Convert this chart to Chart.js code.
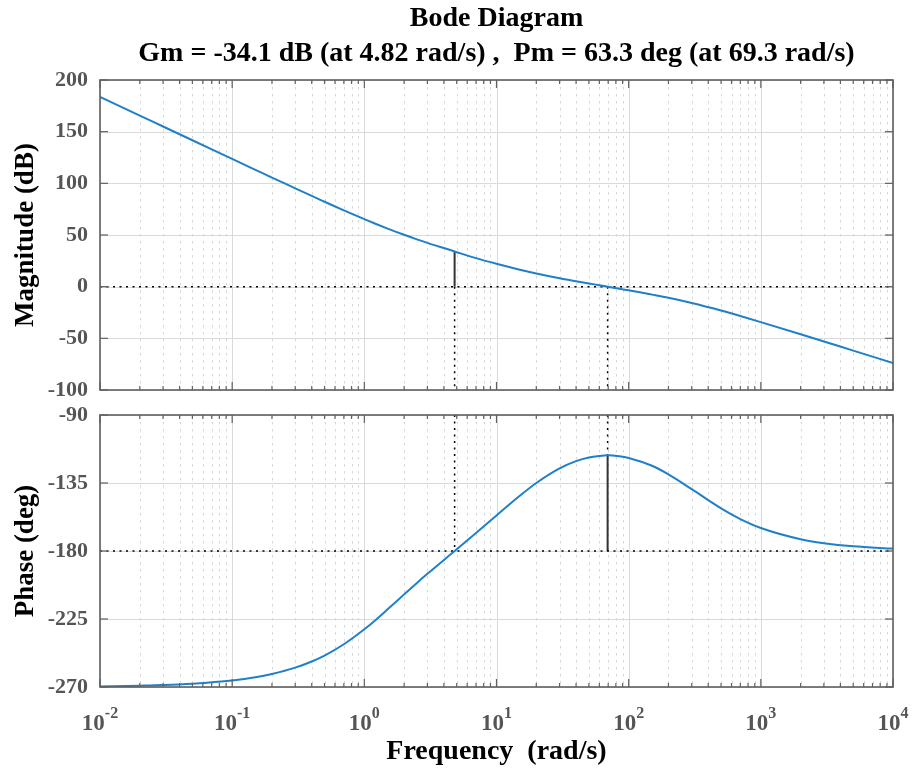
<!DOCTYPE html>
<html>
<head>
<meta charset="utf-8">
<script src="https://cdn.jsdelivr.net/npm/chart.js@4.4.1/dist/chart.umd.min.js"></script>
<style>
  html, body { margin: 0; padding: 0; background: #fff; }
  #graficoMag { position: absolute; left: 0; top: 0; }
  #graficoFase { position: absolute; left: 0; top: 400px; }
</style>
</head>
<body>
<canvas id="graficoMag" width="913" height="400"></canvas>
<canvas id="graficoFase" width="913" height="375"></canvas>
<script>
const frequencias = [0.01, 0.02, 0.03, 0.05, 0.1, 0.15, 0.2, 0.3, 0.4, 0.5, 0.7, 1, 1.2, 1.5, 2, 2.5, 3, 4.82, 7, 10, 15, 20, 30, 40, 50, 60, 69.3, 85, 100, 150, 200, 300, 500, 700, 1000, 2000, 3000, 5000, 10000];
const magnitudeDb = [183.6, 165.5, 155.0, 141.7, 123.6, 113.1, 105.6, 95.2, 87.8, 82.2, 73.8, 65.3, 61.1, 56.2, 50.2, 45.8, 42.4, 34.1, 27.6, 22.1, 16.4, 12.8, 8.2, 5.3, 3.1, 1.4, 0, -2.0, -3.5, -7.7, -10.8, -15.8, -23.1, -28.4, -34.3, -46.0, -53.0, -61.9, -73.9];
const faseGraus = [-269.6, -269.1, -268.7, -267.8, -265.7, -263.6, -261.4, -257.2, -253.1, -249.2, -241.7, -231.8, -226.1, -218.6, -208.7, -201.1, -195.1, -180.0, -168.1, -156.5, -143.5, -135.0, -125.3, -120.5, -118.1, -117.1, -116.7, -117.3, -118.4, -123.6, -129.3, -139.1, -151.8, -158.9, -164.8, -172.2, -174.8, -176.9, -178.4];

const decadas = [1e-2, 1e-1, 1, 1e1, 1e2, 1e3, 1e4];
const expoentes = ['-2', '-1', '0', '1', '2', '3', '4'];
const fatoresMenores = [2, 3, 4, 5, 6, 7, 8, 9];
const ticksMagnitude = [-100, -50, 0, 50, 100, 150, 200];
const ticksFase = [-270, -225, -180, -135, -90];

// margens
const freqGm = 4.82;
const magNaFreqGm = 34.1;
const freqPm = 69.3;
const faseNaFreqPm = -116.7;

const fonte = "'Liberation Serif', 'Times New Roman', serif";
const azul = '#1f80c8';

function pares(xs, ys) {
    return xs.map((x, i) => ({ x: x, y: ys[i] }));
}

function linhaPontilhada(dados) {
    return { data: dados, borderColor: '#000', borderWidth: 1.5, borderDash: [2, 4.5], pointRadius: 0, tension: 0 };
}

function linhaCheia(dados) {
    return { data: dados, borderColor: '#333', borderWidth: 2, pointRadius: 0, tension: 0 };
}

const menores = [];
decadas.slice(0, -1).forEach(d => fatoresMenores.forEach(k => menores.push(d * k)));

// grade estilo matlab (linhas cheias nas decadas, pontilhadas no resto)
const gradeMatlab = {
    id: 'gradeMatlab',
    beforeDatasetsDraw(chart) {
        const { ctx, chartArea: a, scales: { x, y } } = chart;
        ctx.save();
        ctx.lineWidth = 1;

        ctx.strokeStyle = '#d6d6d6';
        ctx.setLineDash([2.5, 4.5]);
        menores.forEach(v => {
            const px = Math.round(x.getPixelForValue(v)) + 0.5;
            ctx.beginPath(); ctx.moveTo(px, a.top); ctx.lineTo(px, a.bottom); ctx.stroke();
        });

        ctx.setLineDash([]);
        ctx.strokeStyle = '#dadada';
        decadas.forEach(v => {
            const px = Math.round(x.getPixelForValue(v)) + 0.5;
            ctx.beginPath(); ctx.moveTo(px, a.top); ctx.lineTo(px, a.bottom); ctx.stroke();
        });
        y.ticks.forEach(t => {
            const py = Math.round(y.getPixelForValue(t.value)) + 0.5;
            ctx.beginPath(); ctx.moveTo(a.left, py); ctx.lineTo(a.right, py); ctx.stroke();
        });
        ctx.restore();
    },
    afterDatasetsDraw(chart) {
        const { ctx, chartArea: a, scales: { x, y } } = chart;
        ctx.save();
        ctx.strokeStyle = '#606060';
        ctx.lineWidth = 1.2;
        const risco = (x1, y1, x2, y2) => { ctx.beginPath(); ctx.moveTo(x1, y1); ctx.lineTo(x2, y2); ctx.stroke(); };

        menores.forEach(v => {
            const px = x.getPixelForValue(v);
            risco(px, a.bottom, px, a.bottom - 4);
            risco(px, a.top, px, a.top + 4);
        });
        decadas.forEach(v => {
            const px = x.getPixelForValue(v);
            risco(px, a.bottom, px, a.bottom - 8);
            risco(px, a.top, px, a.top + 8);
        });
        y.ticks.forEach(t => {
            const py = y.getPixelForValue(t.value);
            risco(a.left, py, a.left + 8, py);
            risco(a.right, py, a.right - 8, py);
        });

        ctx.lineWidth = 1.6;
        ctx.strokeRect(a.left, a.top, a.width, a.height);
        ctx.restore();
    }
};

// rotulos 10^n do eixo x
const rotulosPotencia = {
    id: 'rotulosPotencia',
    afterDraw(chart) {
        const { ctx, scales: { x } } = chart;
        ctx.save();
        ctx.fillStyle = '#555';
        ctx.textAlign = 'left';
        ctx.textBaseline = 'alphabetic';
        decadas.forEach((d, i) => {
            const px = x.getPixelForValue(d);
            ctx.font = 'bold 23px ' + fonte;
            const larguraBase = ctx.measureText('10').width;
            ctx.font = 'bold 16px ' + fonte;
            const larguraExp = ctx.measureText(expoentes[i]).width;
            const x0 = px - (larguraBase + larguraExp) / 2;
            ctx.font = 'bold 23px ' + fonte;
            ctx.fillText('10', x0, 330);
            ctx.font = 'bold 16px ' + fonte;
            ctx.fillText(expoentes[i], x0 + larguraBase, 318);
        });
        ctx.restore();
    }
};

function eixoY(ticks, minimo, maximo, titulo) {
    return {
        type: 'linear',
        min: minimo,
        max: maximo,
        afterBuildTicks: s => { s.ticks = ticks.map(v => ({ value: v })); },
        afterFit: s => { s.width = 100; s.paddingTop = 0; s.paddingBottom = 0; },
        grid: { display: false, drawTicks: false },
        border: { display: false },
        ticks: {
            autoSkip: false,
            padding: 12,
            color: '#555',
            font: { family: fonte, size: 22, weight: 'bold' },
            callback: v => String(v)
        },
        title: {
            display: true,
            text: titulo,
            color: '#000',
            padding: { top: 10, bottom: 0 },
            font: { family: fonte, size: 27, weight: 'bold' }
        }
    };
}

const graficoMag = document.getElementById('graficoMag');
new Chart(graficoMag, {
    type: 'line',
    data: {
        datasets: [
            { data: pares(frequencias, magnitudeDb), borderColor: azul, borderWidth: 2, pointRadius: 0, cubicInterpolationMode: 'monotone' },
            linhaPontilhada([{ x: decadas[0], y: 0 }, { x: decadas[decadas.length - 1], y: 0 }]),
            linhaCheia([{ x: freqGm, y: 0 }, { x: freqGm, y: magNaFreqGm }]),
            linhaPontilhada([{ x: freqGm, y: 0 }, { x: freqGm, y: ticksMagnitude[0] }]),
            linhaPontilhada([{ x: freqPm, y: 0 }, { x: freqPm, y: ticksMagnitude[0] }])
        ]
    },
    options: {
        responsive: false,
        animation: false,
        layout: { padding: { left: 0, right: 20, top: 0, bottom: 10 } },
        plugins: {
            legend: { display: false },
            tooltip: { enabled: false },
            title: {
                display: true,
                fullSize: false,
                text: ['Bode Diagram', `Gm = ${-magNaFreqGm} dB (at ${freqGm} rad/s) ,  Pm = ${(faseNaFreqPm + 180).toFixed(1)} deg (at ${freqPm} rad/s)`],
                color: '#000',
                font: { family: fonte, size: 28, weight: 'bold', lineHeight: 1.25 },
                padding: { top: 1, bottom: 9 }
            }
        },
        scales: {
            x: { type: 'logarithmic', min: decadas[0], max: decadas[decadas.length - 1], display: false },
            y: eixoY(ticksMagnitude, -100, 200, 'Magnitude (dB)')
        }
    },
    plugins: [gradeMatlab]
});

const graficoFase = document.getElementById('graficoFase');
new Chart(graficoFase, {
    type: 'line',
    data: {
        datasets: [
            { data: pares(frequencias, faseGraus), borderColor: azul, borderWidth: 2, pointRadius: 0, cubicInterpolationMode: 'monotone' },
            linhaPontilhada([{ x: decadas[0], y: -180 }, { x: decadas[decadas.length - 1], y: -180 }]),
            linhaPontilhada([{ x: freqGm, y: ticksFase[ticksFase.length - 1] }, { x: freqGm, y: -180 }]),
            linhaPontilhada([{ x: freqPm, y: ticksFase[ticksFase.length - 1] }, { x: freqPm, y: faseNaFreqPm }]),
            linhaCheia([{ x: freqPm, y: -180 }, { x: freqPm, y: faseNaFreqPm }])
        ]
    },
    options: {
        responsive: false,
        animation: false,
        layout: { padding: { left: 0, right: 20, top: 15, bottom: 0 } },
        plugins: {
            legend: { display: false },
            tooltip: { enabled: false }
        },
        scales: {
            x: {
                type: 'logarithmic',
                min: decadas[0],
                max: decadas[decadas.length - 1],
                afterFit: s => { s.height = 88; s.paddingLeft = 0; s.paddingRight = 0; },
                grid: { display: false },
                border: { display: false },
                ticks: { display: false },
                title: {
                    display: true,
                    text: 'Frequency  (rad/s)',
                    color: '#000',
                    padding: { top: 0, bottom: 6 },
                    font: { family: fonte, size: 28, weight: 'bold' }
                }
            },
            y: eixoY(ticksFase, -270, -90, 'Phase (deg)')
        }
    },
    plugins: [gradeMatlab, rotulosPotencia]
});
</script>
</body>
</html>
